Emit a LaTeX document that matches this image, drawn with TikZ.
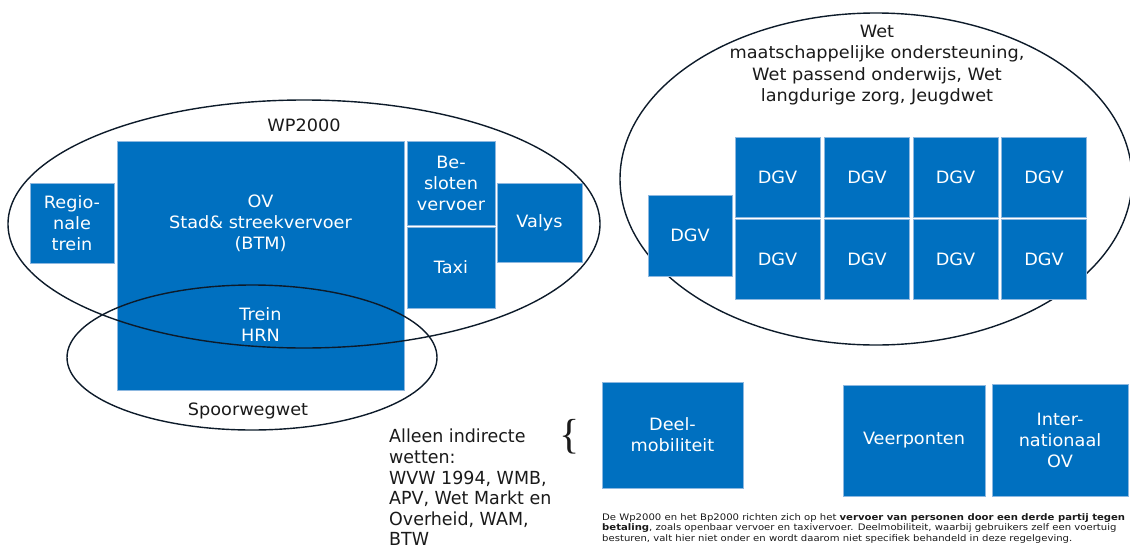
\documentclass[tikz,border=0pt]{standalone}
\usepackage{fontspec}
\setmainfont[FakeStretch=1.04]{DejaVu Sans}
\newfontfamily\alleenfont[FakeStretch=0.97]{DejaVu Sans}
\newfontfamily\footfont[FakeStretch=1.12]{DejaVu Sans}
\newfontfamily\bracefont{Liberation Serif}
\usetikzlibrary{shapes.geometric}
\definecolor{boxblue}{HTML}{0070C0}
\definecolor{boxedge}{HTML}{8DB8E0}
\definecolor{ringcol}{HTML}{0D1B2A}
\definecolor{txt}{HTML}{1A1A1A}
\tikzset{
  bluebox/.style={fill=boxblue, draw=boxedge, line width=0.8pt, text=white,
    font=\fontsize{17}{21}\selectfont, align=center, inner sep=0pt},
  ring/.style={ellipse, draw=ringcol, line width=1.4pt, inner sep=0pt},
  lbl/.style={text=txt, font=\fontsize{17}{21.3}\selectfont, align=center, inner sep=0pt},
  intext/.style={text=white, font=\fontsize{17}{21}\selectfont, align=center, inner sep=0pt}
}
\begin{document}
\begin{tikzpicture}[x=1pt,y=-1pt]
\useasboundingbox (0,0) rectangle (1130,549);
% right ellipse (behind boxes)
\node[ring, minimum width=512pt, minimum height=332pt] (wmo) at (876,179) {};
\node[lbl] (wmot) at (877,65) {Wet\\maatschappelijke ondersteuning,\\Wet passend onderwijs, Wet\\langdurige zorg, Jeugdwet};
% DGV boxes
\node[bluebox, minimum width=84pt, minimum height=81pt] (d0) at (690,235.5) {DGV};
\node[bluebox, minimum width=85pt, minimum height=80pt] (d1) at (777.5,177) {DGV};
\node[bluebox, minimum width=85pt, minimum height=80pt] (d2) at (867,177) {DGV};
\node[bluebox, minimum width=85pt, minimum height=80pt] (d3) at (955.5,177) {DGV};
\node[bluebox, minimum width=85pt, minimum height=80pt] (d4) at (1044,177) {DGV};
\node[bluebox, minimum width=85pt, minimum height=80pt] (d5) at (777.5,259) {DGV};
\node[bluebox, minimum width=85pt, minimum height=80pt] (d6) at (867,259) {DGV};
\node[bluebox, minimum width=85pt, minimum height=80pt] (d7) at (955.5,259) {DGV};
\node[bluebox, minimum width=85pt, minimum height=80pt] (d8) at (1044,259) {DGV};
% left group boxes
\node[bluebox, minimum width=84pt, minimum height=80pt] (reg) at (72,223) {Regio-\\nale\\trein};
\node[bluebox, minimum width=287pt, minimum height=249pt] (ov) at (260.5,265.5) {};
\node[intext] (ovt) at (260.5,223) {OV\\Stad\& streekvervoer\\(BTM)};
\node[intext] (hrn) at (260.5,324.5) {Trein\\HRN};
\node[bluebox, minimum width=88pt, minimum height=84pt] (besl) at (451,183) {Be-\\sloten\\vervoer};
\node[bluebox, minimum width=88pt, minimum height=81pt] (taxi) at (451,267.5) {Taxi};
\node[bluebox, minimum width=85pt, minimum height=79pt] (valys) at (539.5,222.5) {Valys};
% left ellipses (on top)
\node[ring, minimum width=592pt, minimum height=248pt] (wp) at (304,224) {};
\node[ring, minimum width=370pt, minimum height=145pt] (spw) at (252,357.5) {};
\node[lbl] (wpt) at (304,125) {WP2000};
\node[lbl] (spwt) at (248,411) {Spoorwegwet};
% bottom
\node[bluebox, minimum width=141pt, minimum height=106pt] (deel) at (672.5,435) {Deel-\\mobiliteit};
\node[bluebox, minimum width=142pt, minimum height=111pt] (veer) at (914,440.5) {Veerponten};
\node[bluebox, minimum width=136pt, minimum height=112pt] (intl) at (1060,440) {Inter-\\nationaal\\OV};
\node[text=txt, font=\bracefont\fontsize{42}{42}\selectfont, inner sep=0pt] (brace) at (570,437) {\{};
\node[text=txt, font=\alleenfont\fontsize{18}{20.6}\selectfont, align=left, anchor=north west, inner sep=0pt] (alleen) at (389,429)
  {Alleen indirecte\\wetten:\\WVW 1994, WMB,\\APV, Wet Markt en\\Overheid, WAM,\\BTW};
\node[text=txt, font=\footfont\fontsize{9}{10.5}\selectfont, align=left, anchor=north west, inner sep=0pt] (foot) at (602,513)
  {De Wp2000 en het Bp2000 richten zich op het \textbf{vervoer van personen door een derde partij tegen}\\
   \textbf{betaling}, zoals openbaar vervoer en taxivervoer. Deelmobiliteit, waarbij gebruikers zelf een voertuig\\
   besturen, valt hier niet onder en wordt daarom niet specifiek behandeld in deze regelgeving.};
\end{tikzpicture}
\end{document}
